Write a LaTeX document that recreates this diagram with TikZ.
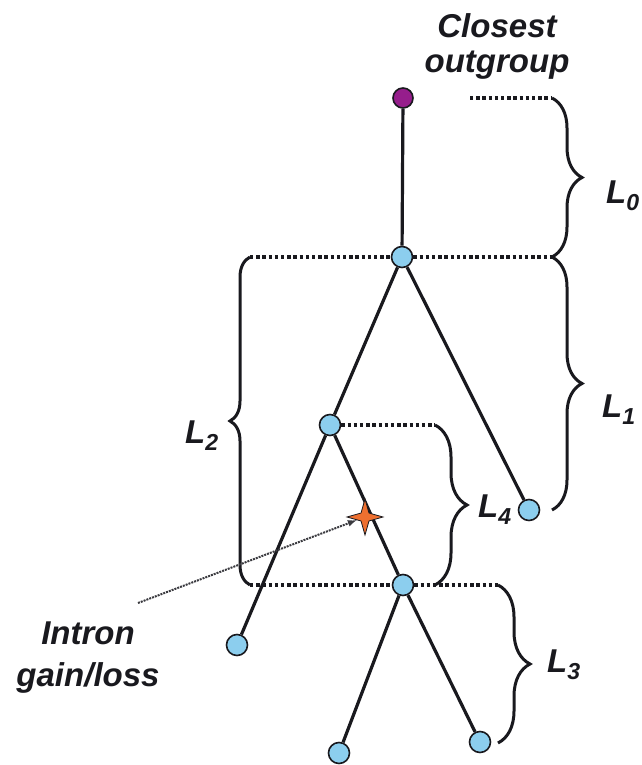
\documentclass[tikz,border=0pt]{standalone}
\usepackage{fontspec}
\setmainfont{Liberation Sans}
\usetikzlibrary{positioning}
\usetikzlibrary{shapes.geometric, decorations.pathreplacing}

\definecolor{nodeblue}{RGB}{140,206,238}
\definecolor{outpurple}{RGB}{150,30,140}
\definecolor{starorange}{RGB}{238,112,48}
\definecolor{inkdark}{RGB}{25,25,30}

\newcommand{\brlab}[1]{L\textsubscript{#1}}

\begin{document}
\begin{tikzpicture}[x=1pt,y=-1pt,
  taxon/.style={circle,draw=inkdark,line width=1.6pt,fill=nodeblue,minimum size=21pt,inner sep=0pt},
  branch/.style={inkdark,line width=3.2pt},
  guide/.style={inkdark,line width=3.6pt,dash pattern=on 3.4pt off 2.8pt},
  lenbrace/.style={inkdark,line width=3pt,decorate,decoration={brace,amplitude=#1}},
  lenlabel/.style={font=\fontsize{33}{36}\selectfont\bfseries\itshape,anchor=base west,inner sep=0pt,text=inkdark},
  bigtext/.style={font=\fontsize{33}{#1}\selectfont\bfseries\itshape,align=center,inner sep=0pt,text=inkdark}]
\useasboundingbox (0,0) rectangle (641,765);

% tree nodes
\node[taxon,fill=outpurple,minimum size=20pt] (O) at (403,98) {};
\node[taxon] (A) at (402,257) {};
\node[taxon] (B) at (330,425) {};
\node[taxon] (C) at (529,510) {};
\node[taxon] (D) at (403,585) {};
\node[taxon] (E) at (237,645) {};
\node[taxon] (F) at (339,753) {};
\node[taxon] (G) at (480,742) {};

% ends of the guide lines
\coordinate (t0) at (470,98);
\coordinate (t1) at (552,98);
\coordinate (r0) at (250,257);
\coordinate (r1) at (552,257);
\coordinate (b1) at (435,425);
\coordinate (b2) at (435,585);
\coordinate (c1) at (552,510);
\coordinate (d0) at (250,585);
\coordinate (d1) at (498,585);
\coordinate (g1) at (498,743);

\draw[guide] (t0) -- (t1);
\draw[guide] (r0) -- (A) -- (r1);
\draw[guide] (B) -- (b1);
\draw[guide] (d0) -- (D) -- (d1);

% braces
\draw[lenbrace=30pt] (t1) -- (r1);
\draw[lenbrace=30pt] (r1) -- (c1);
\draw[lenbrace=20pt] (d0) -- (r0);
\draw[lenbrace=32pt] (b1) -- (b2);
\draw[lenbrace=32pt] (d1) -- (g1);

\node[lenlabel] (l0) at (606,203) {\brlab{0}};
\node[lenlabel] (l1) at (602,417) {\brlab{1}};
\node[lenlabel] (l2) at (185,443) {\brlab{2}};
\node[lenlabel] (l3) at (547,672) {\brlab{3}};
\node[lenlabel] (l4) at (478,517) {\brlab{4}};

% branches
\draw[branch] (O) -- (A);
\draw[branch] (A) -- (B);
\draw[branch] (A) -- (C);
\draw[branch] (B) -- (E);
\draw[branch] (B) -- (D);
\draw[branch] (D) -- (F);
\draw[branch] (D) -- (G);

% intron event
\node[star,star points=4,star point ratio=3.2,fill=starorange,draw=inkdark,line width=0.8pt,minimum size=36pt,inner sep=0pt] (hit) at (365,517) {};
\coordinate (src) at (138,603);
\draw[inkdark!85,line width=2pt,densely dotted,-latex] (src) -- (hit);

\node[bigtext=35] (outg) at (497,46) {Closest\\outgroup};
\node[bigtext=42] (intr) at (88,658) {Intron\\gain/loss};

\end{tikzpicture}
\end{document}
